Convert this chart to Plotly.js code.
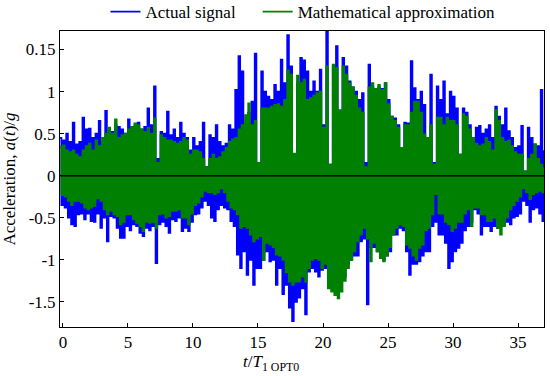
<!DOCTYPE html>
<html>
<head>
<meta charset="utf-8">
<script src="https://cdn.plot.ly/plotly-3.0.1.min.js"></script>
<style>html,body{margin:0;padding:0;background:#fff;}#chart{width:550px;height:376px;}</style>
</head>
<body>
<div id="chart"></div>
<script>
// Sampling of the envelope
const timeStart = -0.25;
const timeStep = 0.25;

// Actual signal: positive and negative peaks per sample
const actualPos = [
0.45,0.42,0.5,0.4,0.63,0.37,0.4,0.69,0.55,0.56,0.45,0.5,0.65,0.4,0.77,0.5,0.52,0.6,0.58,0.55,
0.5,0.67,0.58,0.6,0.63,0.55,0.58,0.8,0.6,1.06,0.2,0.52,0.5,0.76,0.48,0.55,0.45,0.63,0.5,0.45,
0.3,0.45,0.35,0.4,0.63,0.1,0.48,0.45,0.6,0.4,0.35,0.38,0.6,0.55,1.02,1.42,1.24,0.6,0.75,0.88,
1.45,0.13,1.24,1.0,0.94,0.9,1.08,1.0,1.38,1.1,1.67,1.3,0.25,1.1,1.4,1.37,1.24,1.0,1.12,1.0,
1.26,0.6,1.72,0.13,1.3,1.54,0.76,1.4,1.3,1.12,1.05,1.0,0.9,0.98,0.15,1.32,1.05,1.0,1.05,1.03,
1.1,0.9,0.7,0.68,0.6,0.33,0.63,0.62,1.36,1.04,0.9,1.0,0.84,0.45,1.2,0.15,1.06,0.9,1.12,0.73,
1.0,0.94,0.8,0.25,0.8,0.75,0.6,0.45,0.57,0.59,0.5,0.55,0.6,0.45,0.82,0.7,0.6,0.8,0.53,0.45,
0.33,0.35,0.59,0.05,0.57,0.45,0.37,0.35,1.02,0.29
];
const actualNeg = [
-0.35,-0.38,-0.5,-0.58,-0.6,-0.46,-0.45,-0.52,-0.45,-0.54,-0.55,-0.45,-0.62,-0.5,-0.78,-0.48,-0.5,-0.62,-0.74,-0.74,
-0.6,-0.65,-0.58,-0.6,-0.68,-0.72,-0.62,-0.65,-0.6,-1.04,-0.58,-0.55,-0.6,-0.68,-0.52,-0.54,-0.5,-0.66,-0.62,-0.66,
-0.55,-0.46,-0.45,-0.38,-0.3,-0.35,-0.5,-0.54,-0.4,-0.35,-0.38,-0.4,-0.54,-0.6,-0.94,-1.1,-0.9,-1.18,-1.0,-1.3,
-1.1,-1.1,-1.0,-0.9,-1.02,-1.0,-1.3,-1.1,-1.41,-1.3,-1.57,-1.73,-1.5,-1.45,-1.34,-1.65,-1.14,-1.1,-1.14,-1.2,
-1.12,-1.1,-1.22,-1.25,-1.3,-1.3,-1.2,-1.2,-1.05,-1.0,-0.95,-0.95,-0.78,-0.75,-1.53,-0.85,-0.85,-0.9,-0.98,-1.0,
-0.95,-0.9,-0.7,-0.7,-0.62,-0.65,-0.9,-1.18,-1.05,-1.05,-1.02,-0.95,-0.9,-0.9,-0.6,-0.55,-0.7,-0.7,-0.8,-1.1,
-1.02,-0.9,-0.86,-0.8,-0.65,-0.6,-0.55,-0.4,-0.45,-0.7,-0.6,-0.6,-0.66,-0.6,-0.62,-0.6,-0.58,-0.55,-0.58,-0.5,
-0.48,-0.45,-0.3,-0.35,-0.55,-0.4,-0.38,-0.45,-0.54,-0.38
];

// Mathematical approximation: positive and negative peaks per sample
const approxPos = [
0.34,0.36,0.3,0.28,0.3,0.25,0.22,0.3,0.35,0.38,0.3,0.42,0.35,0.45,0.5,0.57,0.5,0.67,0.45,0.48,
0.5,0.55,0.58,0.62,0.6,0.55,0.52,0.57,0.5,0.68,0.15,0.48,0.45,0.42,0.42,0.4,0.38,0.4,0.45,0.42,
0.25,0.3,0.3,0.28,0.2,0.1,0.2,0.25,0.2,0.22,0.28,0.33,0.4,0.43,0.45,0.55,0.6,0.72,0.86,0.6,
0.65,0.15,0.8,0.8,0.8,0.82,0.84,0.85,0.82,0.9,1.25,1.2,0.26,1.19,1.1,1.14,0.9,0.92,0.95,0.98,
1.0,0.57,1.3,0.13,1.32,1.28,0.78,1.3,1.2,1.1,1.05,0.95,0.8,0.75,0.1,1.05,1.1,1.03,1.08,1.02,
1.1,0.85,0.7,0.65,0.57,0.33,0.6,0.6,0.75,0.88,0.88,0.75,0.49,0.45,0.6,0.13,0.69,0.69,0.6,0.69,
0.65,0.65,0.6,0.25,0.73,0.7,0.55,0.45,0.38,0.35,0.37,0.45,0.4,0.3,0.78,0.65,0.45,0.4,0.42,0.35,
0.28,0.25,0.25,0.05,0.2,0.25,0.37,0.2,0.13,0.09
];
const approxNeg = [
-0.23,-0.25,-0.3,-0.35,-0.3,-0.3,-0.32,-0.38,-0.4,-0.38,-0.36,-0.27,-0.3,-0.4,-0.46,-0.42,-0.46,-0.48,-0.58,-0.55,
-0.46,-0.46,-0.52,-0.56,-0.6,-0.66,-0.55,-0.56,-0.55,-0.62,-0.46,-0.45,-0.5,-0.48,-0.42,-0.42,-0.4,-0.5,-0.5,-0.58,
-0.45,-0.35,-0.32,-0.25,-0.18,-0.2,-0.2,-0.22,-0.2,-0.15,-0.2,-0.3,-0.38,-0.4,-0.46,-0.62,-0.6,-0.62,-0.7,-0.78,
-0.75,-0.72,-1.0,-0.8,-0.82,-0.85,-0.94,-0.95,-1.0,-1.15,-1.26,-1.3,-1.26,-1.26,-1.2,-1.26,-1.1,-1.0,-0.98,-1.0,
-1.1,-1.05,-1.34,-1.38,-1.42,-1.46,-1.38,-1.25,-1.1,-1.0,-0.9,-0.78,-0.7,-0.62,-0.75,-1.02,-0.8,-0.9,-0.98,-1.02,
-0.95,-0.85,-0.7,-0.62,-0.58,-0.6,-0.82,-0.86,-0.95,-1.0,-0.86,-0.82,-0.65,-0.62,-0.46,-0.22,-0.45,-0.45,-0.55,-0.58,
-0.66,-0.62,-0.55,-0.55,-0.45,-0.4,-0.6,-0.38,-0.38,-0.46,-0.46,-0.54,-0.54,-0.5,-0.62,-0.7,-0.6,-0.5,-0.4,-0.35,
-0.3,-0.25,-0.15,-0.2,-0.28,-0.22,-0.2,-0.18,-0.2,-0.15
];

const seriesNames = ['Actual signal', 'Mathematical approximation'];
const yTickVals = [-1.5, -1, -0.5, 0, 0.5, 1, 1.5];
const yTickText = ["-1.5", "-1", "-0.5", "0", "0.5", "1", "0.15"];
const xTickVals = [0, 5, 10, 15, 20, 25, 30, 35];

// Each sample: up to its positive peak, down to its negative peak (square-wave path)
function squareWave(pos, neg) {
  const xs = [], ys = [];
  const n = Math.min(pos.length, neg.length);
  for (let i = 0; i < n; i++) {
    const t = timeStart + i * timeStep;
    xs.push(t); ys.push(pos[i]);
    xs.push(t + timeStep / 2); ys.push(neg[i]);
  }
  return {x: xs, y: ys};
}

const a = squareWave(actualPos, actualNeg);
const m = squareWave(approxPos, approxNeg);

const font = {family: '"Liberation Serif", "Times New Roman", serif', size: 17, color: '#000'};
const legendPad = '\u00a0\u00a0\u00a0\u00a0';

const traces = [
  {type: 'scatter', mode: 'lines', name: seriesNames[0] + legendPad, x: a.x, y: a.y,
   line: {color: '#0000ff', width: 1.8, shape: 'hv'}},
  {type: 'scatter', mode: 'lines', name: seriesNames[1], x: m.x, y: m.y,
   line: {color: '#008000', width: 1.8, shape: 'hv'}}
];

const layout = {
  width: 550, height: 376,
  margin: {l: 60, r: 6, t: 31, b: 49, autoexpand: false},
  paper_bgcolor: '#fff', plot_bgcolor: '#fff',
  font: font,
  showlegend: true,
  legend: {orientation: 'h', x: 0.502, xanchor: 'center', y: 1.064, yanchor: 'middle',
           font: font, bgcolor: 'rgba(0,0,0,0)', tracegroupgap: 0},
  xaxis: {range: [-0.23, 37.0], tickvals: xTickVals, ticks: 'inside', ticklen: 4,
          tickcolor: '#000', showgrid: false, zeroline: false, showline: true,
          linecolor: '#000', linewidth: 1, mirror: true, tickfont: font},
  yaxis: {range: [-1.8, 1.72], tickvals: yTickVals, ticktext: yTickText, ticks: 'inside',
          ticklen: 4, tickcolor: '#000', showgrid: false, zeroline: false, showline: true,
          linecolor: '#000', linewidth: 1, mirror: true, tickfont: font,
          title: {text: 'Acceleration, <i>a</i>(<i>t</i>)/<i>g</i>', font: font, standoff: 6}},
  shapes: [{type: 'line', xref: 'paper', x0: 0, x1: 1, yref: 'y', y0: 0, y1: 0,
            line: {color: '#000', width: 1.5}, layer: 'above'}],
  annotations: [{text: '<i>t</i>/<i>T</i><sub>1 OPT0</sub>', xref: 'paper', yref: 'paper',
                 x: 0.436, y: -0.078, xanchor: 'center', yanchor: 'top', showarrow: false, font: font}]
};

Plotly.newPlot('chart', traces, layout, {displayModeBar: false, staticPlot: true});
</script>
</body>
</html>
